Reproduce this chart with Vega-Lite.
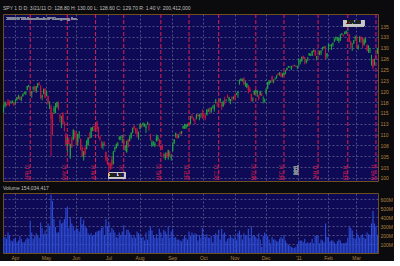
{
"$schema": "https://vega.github.io/schema/vega-lite/v6.json",
"background": "#0b0b0d",
"padding": {"left": 2, "top": 5, "right": 0, "bottom": 0},
"spacing": 2,
"config": {
  "view": {"fill": "#0e0a55", "stroke": "#6e5020", "strokeWidth": 1},
  "font": "Liberation Sans",
  "axis": {"labelFontSize": 5, "labelColor": "#b08040", "gridColor": "#6a6a9c", "gridDash": [2, 2], "gridWidth": 0.7, "domain": false, "ticks": false, "title": null, "labelPadding": 2, "labelOverlap": false},
  "title": {"fontSize": 5, "color": "#c0c0c0", "anchor": "start", "offset": 2, "fontWeight": "normal"}
},
"datasets": {"spy": [
{"d":"2010-03-22","o":115.2,"h":116.9,"l":115.0,"c":116.6,"v":170},
{"d":"2010-03-23","o":116.7,"h":117.6,"l":116.2,"c":117.4,"v":180},
{"d":"2010-03-24","o":117.0,"h":117.2,"l":116.5,"c":116.9,"v":160},
{"d":"2010-03-25","o":117.6,"h":118.2,"l":116.8,"c":116.9,"v":230},
{"d":"2010-03-26","o":117.3,"h":117.9,"l":116.5,"c":117.0,"v":200},
{"d":"2010-03-29","o":117.3,"h":117.8,"l":117.1,"c":117.5,"v":140},
{"d":"2010-03-30","o":117.6,"h":117.9,"l":117.2,"c":117.6,"v":130},
{"d":"2010-03-31","o":117.4,"h":117.5,"l":116.6,"c":116.8,"v":160},
{"d":"2010-04-01","o":117.7,"h":118.1,"l":116.9,"c":117.8,"v":160},
{"d":"2010-04-05","o":117.9,"h":118.6,"l":117.9,"c":118.6,"v":120},
{"d":"2010-04-06","o":118.3,"h":119.2,"l":118.2,"c":118.8,"v":140},
{"d":"2010-04-07","o":118.6,"h":119.0,"l":117.9,"c":118.1,"v":190},
{"d":"2010-04-08","o":118.0,"h":118.8,"l":117.7,"c":118.6,"v":160},
{"d":"2010-04-09","o":118.9,"h":119.4,"l":118.7,"c":119.4,"v":120},
{"d":"2010-04-12","o":119.4,"h":119.9,"l":119.3,"c":119.7,"v":120},
{"d":"2010-04-13","o":119.6,"h":119.9,"l":119.1,"c":119.8,"v":150},
{"d":"2010-04-14","o":120.3,"h":121.2,"l":120.2,"c":121.2,"v":170},
{"d":"2010-04-15","o":121.1,"h":121.5,"l":120.9,"c":121.3,"v":160},
{"d":"2010-04-16","o":120.9,"h":121.2,"l":118.8,"c":119.4,"v":360,"e":"APR 10"},
{"d":"2010-04-19","o":119.4,"h":120.0,"l":118.5,"c":120.0,"v":230},
{"d":"2010-04-20","o":120.6,"h":121.1,"l":120.2,"c":120.9,"v":160},
{"d":"2010-04-21","o":121.0,"h":121.3,"l":119.9,"c":120.6,"v":190},
{"d":"2010-04-22","o":120.0,"h":121.2,"l":119.6,"c":121.1,"v":220},
{"d":"2010-04-23","o":121.1,"h":121.9,"l":120.8,"c":121.8,"v":190},
{"d":"2010-04-26","o":121.8,"h":122.1,"l":121.4,"c":121.5,"v":170},
{"d":"2010-04-27","o":121.2,"h":121.4,"l":118.3,"c":118.3,"v":340},
{"d":"2010-04-28","o":118.6,"h":119.2,"l":117.9,"c":119.0,"v":280},
{"d":"2010-04-29","o":119.4,"h":120.6,"l":119.3,"c":120.5,"v":210},
{"d":"2010-04-30","o":120.6,"h":120.7,"l":118.4,"c":118.5,"v":250},
{"d":"2010-05-03","o":118.9,"h":120.2,"l":118.9,"c":120.0,"v":200},
{"d":"2010-05-04","o":118.9,"h":119.0,"l":116.9,"c":117.2,"v":330},
{"d":"2010-05-05","o":116.3,"h":117.7,"l":115.9,"c":116.6,"v":300},
{"d":"2010-05-06","o":116.3,"h":116.9,"l":105.0,"c":113.6,"v":650},
{"d":"2010-05-07","o":113.5,"h":115.1,"l":109.9,"c":111.3,"v":580},
{"d":"2010-05-10","o":115.3,"h":116.6,"l":114.8,"c":116.1,"v":380},
{"d":"2010-05-11","o":115.0,"h":117.3,"l":114.9,"c":115.8,"v":290},
{"d":"2010-05-12","o":116.3,"h":117.6,"l":116.2,"c":117.3,"v":230},
{"d":"2010-05-13","o":117.3,"h":117.6,"l":115.6,"c":116.0,"v":230},
{"d":"2010-05-14","o":114.6,"h":114.8,"l":112.8,"c":113.8,"v":370},
{"d":"2010-05-17","o":114.0,"h":114.3,"l":111.5,"c":114.0,"v":330},
{"d":"2010-05-18","o":114.9,"h":115.2,"l":112.3,"c":112.5,"v":340},
{"d":"2010-05-19","o":112.1,"h":113.0,"l":110.7,"c":112.0,"v":380},
{"d":"2010-05-20","o":110.0,"h":110.4,"l":107.4,"c":107.6,"v":500},
{"d":"2010-05-21","o":106.4,"h":109.7,"l":106.0,"c":109.1,"v":520,"e":"MAY 10"},
{"d":"2010-05-24","o":108.9,"h":109.4,"l":107.7,"c":107.8,"v":280},
{"d":"2010-05-25","o":105.1,"h":107.9,"l":104.4,"c":107.8,"v":400},
{"d":"2010-05-26","o":108.9,"h":109.5,"l":106.9,"c":107.0,"v":330},
{"d":"2010-05-27","o":108.8,"h":111.2,"l":108.7,"c":111.1,"v":300},
{"d":"2010-05-28","o":110.7,"h":111.0,"l":109.0,"c":109.4,"v":250},
{"d":"2010-06-01","o":108.9,"h":110.6,"l":107.5,"c":107.6,"v":280},
{"d":"2010-06-02","o":108.3,"h":110.2,"l":107.5,"c":110.1,"v":270},
{"d":"2010-06-03","o":110.3,"h":110.8,"l":109.1,"c":110.5,"v":240},
{"d":"2010-06-04","o":109.0,"h":109.1,"l":106.4,"c":106.6,"v":400},
{"d":"2010-06-07","o":106.9,"h":107.3,"l":104.9,"c":105.0,"v":320},
{"d":"2010-06-08","o":104.9,"h":106.2,"l":104.0,"c":106.1,"v":370},
{"d":"2010-06-09","o":106.9,"h":107.3,"l":105.3,"c":105.5,"v":300},
{"d":"2010-06-10","o":106.7,"h":108.7,"l":106.6,"c":108.6,"v":280},
{"d":"2010-06-11","o":107.6,"h":109.3,"l":107.5,"c":109.3,"v":220},
{"d":"2010-06-14","o":109.7,"h":110.5,"l":109.0,"c":109.1,"v":200},
{"d":"2010-06-15","o":109.3,"h":111.7,"l":109.2,"c":111.6,"v":220},
{"d":"2010-06-16","o":111.1,"h":111.8,"l":110.8,"c":111.6,"v":190},
{"d":"2010-06-17","o":111.9,"h":112.0,"l":110.7,"c":111.7,"v":200},
{"d":"2010-06-18","o":111.8,"h":112.2,"l":111.2,"c":111.7,"v":230,"e":"JUN 10"},
{"d":"2010-06-21","o":112.9,"h":113.2,"l":110.6,"c":111.3,"v":240},
{"d":"2010-06-22","o":111.4,"h":111.8,"l":109.2,"c":109.3,"v":250},
{"d":"2010-06-23","o":109.3,"h":109.7,"l":108.5,"c":109.0,"v":250},
{"d":"2010-06-24","o":108.3,"h":108.5,"l":106.9,"c":107.2,"v":280},
{"d":"2010-06-25","o":107.4,"h":108.4,"l":106.6,"c":107.9,"v":300},
{"d":"2010-06-28","o":107.9,"h":108.4,"l":107.3,"c":107.6,"v":200},
{"d":"2010-06-29","o":106.0,"h":106.1,"l":103.8,"c":104.2,"v":380},
{"d":"2010-06-30","o":104.1,"h":104.9,"l":103.0,"c":103.2,"v":300},
{"d":"2010-07-01","o":103.5,"h":103.6,"l":101.1,"c":102.8,"v":340},
{"d":"2010-07-02","o":103.3,"h":103.5,"l":101.9,"c":102.3,"v":230},
{"d":"2010-07-06","o":104.1,"h":105.1,"l":102.1,"c":103.0,"v":280},
{"d":"2010-07-07","o":103.3,"h":106.2,"l":103.1,"c":106.1,"v":260},
{"d":"2010-07-08","o":106.7,"h":107.2,"l":106.0,"c":107.0,"v":230},
{"d":"2010-07-09","o":106.9,"h":107.9,"l":106.8,"c":107.9,"v":180},
{"d":"2010-07-12","o":107.8,"h":108.3,"l":107.3,"c":107.9,"v":170},
{"d":"2010-07-13","o":108.9,"h":109.6,"l":108.7,"c":109.5,"v":230},
{"d":"2010-07-14","o":109.3,"h":109.7,"l":108.7,"c":109.5,"v":200},
{"d":"2010-07-15","o":109.6,"h":109.9,"l":108.0,"c":109.6,"v":240},
{"d":"2010-07-16","o":109.0,"h":109.1,"l":106.4,"c":106.7,"v":310,"e":"JUL 10"},
{"d":"2010-07-19","o":107.0,"h":107.5,"l":106.2,"c":107.3,"v":200},
{"d":"2010-07-20","o":106.0,"h":108.6,"l":105.8,"c":108.5,"v":260},
{"d":"2010-07-21","o":108.9,"h":109.0,"l":107.0,"c":107.2,"v":260},
{"d":"2010-07-22","o":108.5,"h":109.8,"l":108.4,"c":109.5,"v":230},
{"d":"2010-07-23","o":109.4,"h":110.5,"l":109.0,"c":110.4,"v":200},
{"d":"2010-07-26","o":110.5,"h":111.6,"l":110.3,"c":111.6,"v":170},
{"d":"2010-07-27","o":112.0,"h":112.3,"l":111.2,"c":111.4,"v":200},
{"d":"2010-07-28","o":111.3,"h":111.5,"l":110.2,"c":110.5,"v":170},
{"d":"2010-07-29","o":111.2,"h":111.6,"l":109.3,"c":110.1,"v":240},
{"d":"2010-07-30","o":109.3,"h":110.7,"l":108.8,"c":110.2,"v":220},
{"d":"2010-08-02","o":111.3,"h":112.6,"l":111.2,"c":112.4,"v":200},
{"d":"2010-08-03","o":112.2,"h":112.4,"l":111.6,"c":111.9,"v":170},
{"d":"2010-08-04","o":112.2,"h":112.8,"l":111.8,"c":112.6,"v":180},
{"d":"2010-08-05","o":112.0,"h":112.6,"l":111.8,"c":112.4,"v":140},
{"d":"2010-08-06","o":111.6,"h":112.3,"l":110.4,"c":112.0,"v":230},
{"d":"2010-08-09","o":112.5,"h":113.0,"l":112.2,"c":112.6,"v":150},
{"d":"2010-08-10","o":112.0,"h":112.7,"l":110.9,"c":111.9,"v":250},
{"d":"2010-08-11","o":110.1,"h":110.2,"l":108.6,"c":108.8,"v":300},
{"d":"2010-08-12","o":107.3,"h":108.7,"l":107.2,"c":108.2,"v":250},
{"d":"2010-08-13","o":107.8,"h":108.5,"l":107.6,"c":107.9,"v":190},
{"d":"2010-08-16","o":107.4,"h":108.3,"l":107.1,"c":107.9,"v":170},
{"d":"2010-08-17","o":108.6,"h":110.0,"l":108.4,"c":109.1,"v":210},
{"d":"2010-08-18","o":109.0,"h":109.8,"l":108.5,"c":109.3,"v":170},
{"d":"2010-08-19","o":108.9,"h":109.0,"l":107.1,"c":107.5,"v":270},
{"d":"2010-08-20","o":107.3,"h":107.6,"l":106.3,"c":107.2,"v":230,"e":"AUG 10"},
{"d":"2010-08-23","o":107.5,"h":107.8,"l":106.5,"c":106.6,"v":170},
{"d":"2010-08-24","o":105.5,"h":105.7,"l":104.6,"c":105.0,"v":260},
{"d":"2010-08-25","o":104.5,"h":105.9,"l":104.1,"c":105.4,"v":240},
{"d":"2010-08-26","o":105.7,"h":105.9,"l":104.6,"c":104.7,"v":210},
{"d":"2010-08-27","o":105.0,"h":106.5,"l":104.2,"c":106.4,"v":300},
{"d":"2010-08-30","o":106.0,"h":106.3,"l":104.8,"c":104.9,"v":170},
{"d":"2010-08-31","o":104.6,"h":105.5,"l":104.0,"c":104.9,"v":240},
{"d":"2010-09-01","o":106.2,"h":108.2,"l":106.1,"c":108.0,"v":270},
{"d":"2010-09-02","o":108.0,"h":108.9,"l":107.8,"c":108.9,"v":170},
{"d":"2010-09-03","o":109.6,"h":110.4,"l":109.3,"c":110.4,"v":180},
{"d":"2010-09-07","o":109.8,"h":110.2,"l":109.1,"c":109.1,"v":150},
{"d":"2010-09-08","o":109.4,"h":110.1,"l":109.2,"c":109.7,"v":150},
{"d":"2010-09-09","o":110.6,"h":110.7,"l":109.8,"c":110.3,"v":140},
{"d":"2010-09-10","o":110.4,"h":110.8,"l":110.1,"c":110.8,"v":130},
{"d":"2010-09-13","o":111.5,"h":112.1,"l":111.3,"c":112.0,"v":160},
{"d":"2010-09-14","o":111.8,"h":112.5,"l":111.3,"c":111.9,"v":190},
{"d":"2010-09-15","o":111.6,"h":112.4,"l":111.3,"c":112.3,"v":170},
{"d":"2010-09-16","o":112.1,"h":112.5,"l":111.8,"c":112.4,"v":150},
{"d":"2010-09-17","o":112.7,"h":112.8,"l":111.8,"c":112.2,"v":240,"e":"SEP 10"},
{"d":"2010-09-20","o":112.4,"h":114.3,"l":112.3,"c":114.2,"v":190},
{"d":"2010-09-21","o":114.2,"h":114.8,"l":113.7,"c":113.9,"v":230},
{"d":"2010-09-22","o":113.8,"h":114.0,"l":113.1,"c":113.4,"v":200},
{"d":"2010-09-23","o":112.7,"h":113.7,"l":112.4,"c":112.5,"v":220},
{"d":"2010-09-24","o":113.6,"h":114.7,"l":113.5,"c":114.6,"v":210},
{"d":"2010-09-27","o":114.6,"h":114.8,"l":114.0,"c":114.2,"v":140},
{"d":"2010-09-28","o":114.3,"h":114.8,"l":113.3,"c":114.6,"v":200},
{"d":"2010-09-29","o":114.3,"h":114.9,"l":113.9,"c":114.3,"v":170},
{"d":"2010-09-30","o":115.0,"h":115.8,"l":113.6,"c":114.1,"v":280},
{"d":"2010-10-01","o":114.9,"h":115.0,"l":113.8,"c":114.6,"v":200},
{"d":"2010-10-04","o":114.4,"h":114.6,"l":113.3,"c":113.7,"v":180},
{"d":"2010-10-05","o":114.5,"h":115.8,"l":114.4,"c":115.8,"v":210},
{"d":"2010-10-06","o":115.7,"h":116.0,"l":115.2,"c":115.8,"v":170},
{"d":"2010-10-07","o":116.2,"h":116.2,"l":115.0,"c":115.6,"v":170},
{"d":"2010-10-08","o":115.3,"h":116.3,"l":115.0,"c":116.2,"v":190},
{"d":"2010-10-11","o":116.3,"h":116.7,"l":116.0,"c":116.3,"v":120},
{"d":"2010-10-12","o":115.9,"h":117.0,"l":115.3,"c":116.8,"v":200},
{"d":"2010-10-13","o":117.4,"h":118.2,"l":117.2,"c":117.6,"v":220},
{"d":"2010-10-14","o":117.5,"h":117.5,"l":116.4,"c":117.2,"v":190},
{"d":"2010-10-15","o":118.1,"h":118.2,"l":116.7,"c":117.6,"v":260,"e":"OCT 10"},
{"d":"2010-10-18","o":117.8,"h":118.3,"l":117.3,"c":118.3,"v":150},
{"d":"2010-10-19","o":117.1,"h":117.5,"l":115.7,"c":116.4,"v":270},
{"d":"2010-10-20","o":116.5,"h":117.8,"l":116.4,"c":117.6,"v":210},
{"d":"2010-10-21","o":118.1,"h":118.7,"l":116.9,"c":117.8,"v":230},
{"d":"2010-10-22","o":117.9,"h":118.1,"l":117.6,"c":118.1,"v":130},
{"d":"2010-10-25","o":118.9,"h":119.3,"l":118.4,"c":118.5,"v":160},
{"d":"2010-10-26","o":117.8,"h":118.7,"l":117.6,"c":118.5,"v":170},
{"d":"2010-10-27","o":117.8,"h":118.2,"l":117.0,"c":118.2,"v":200},
{"d":"2010-10-28","o":118.6,"h":118.8,"l":117.7,"c":118.3,"v":170},
{"d":"2010-10-29","o":118.2,"h":118.8,"l":118.1,"c":118.5,"v":160},
{"d":"2010-11-01","o":119.1,"h":119.5,"l":117.9,"c":118.5,"v":190},
{"d":"2010-11-02","o":119.2,"h":119.6,"l":119.1,"c":119.4,"v":150},
{"d":"2010-11-03","o":119.6,"h":120.0,"l":118.5,"c":119.9,"v":220},
{"d":"2010-11-04","o":121.6,"h":122.7,"l":121.5,"c":122.4,"v":250},
{"d":"2010-11-05","o":122.4,"h":123.0,"l":122.3,"c":122.9,"v":200},
{"d":"2010-11-08","o":122.5,"h":122.9,"l":122.2,"c":122.6,"v":150},
{"d":"2010-11-09","o":123.0,"h":123.2,"l":121.4,"c":121.6,"v":220},
{"d":"2010-11-10","o":121.7,"h":122.3,"l":121.0,"c":122.2,"v":200},
{"d":"2010-11-11","o":120.9,"h":121.9,"l":120.7,"c":121.7,"v":200},
{"d":"2010-11-12","o":121.3,"h":121.4,"l":119.5,"c":120.2,"v":270},
{"d":"2010-11-15","o":120.5,"h":121.0,"l":119.8,"c":119.9,"v":170},
{"d":"2010-11-16","o":119.3,"h":119.5,"l":117.6,"c":117.9,"v":300},
{"d":"2010-11-17","o":118.0,"h":118.6,"l":117.6,"c":118.1,"v":190},
{"d":"2010-11-18","o":119.2,"h":120.2,"l":119.1,"c":119.9,"v":200},
{"d":"2010-11-19","o":119.7,"h":120.3,"l":119.4,"c":120.2,"v":180,"e":"NOV 10"},
{"d":"2010-11-22","o":119.7,"h":120.2,"l":118.7,"c":120.1,"v":160},
{"d":"2010-11-23","o":119.0,"h":119.1,"l":117.9,"c":118.3,"v":220},
{"d":"2010-11-24","o":119.1,"h":120.1,"l":119.0,"c":120.0,"v":150},
{"d":"2010-11-26","o":119.5,"h":119.6,"l":118.9,"c":118.9,"v":70},
{"d":"2010-11-29","o":118.7,"h":118.8,"l":117.2,"c":118.7,"v":190},
{"d":"2010-11-30","o":117.8,"h":118.3,"l":117.4,"c":118.0,"v":230},
{"d":"2010-12-01","o":119.3,"h":120.7,"l":119.3,"c":120.5,"v":210},
{"d":"2010-12-02","o":120.7,"h":122.1,"l":120.5,"c":122.1,"v":190},
{"d":"2010-12-03","o":121.6,"h":122.5,"l":121.5,"c":122.3,"v":150},
{"d":"2010-12-06","o":122.1,"h":122.5,"l":121.9,"c":122.1,"v":110},
{"d":"2010-12-07","o":123.4,"h":123.6,"l":122.0,"c":122.1,"v":180},
{"d":"2010-12-08","o":122.3,"h":122.7,"l":121.8,"c":122.6,"v":150},
{"d":"2010-12-09","o":123.0,"h":123.2,"l":122.6,"c":123.0,"v":150},
{"d":"2010-12-10","o":123.1,"h":123.7,"l":122.9,"c":123.7,"v":130},
{"d":"2010-12-13","o":124.0,"h":124.2,"l":123.6,"c":123.8,"v":130},
{"d":"2010-12-14","o":123.9,"h":124.4,"l":123.6,"c":124.0,"v":160},
{"d":"2010-12-15","o":123.9,"h":124.4,"l":123.2,"c":123.4,"v":180},
{"d":"2010-12-16","o":123.5,"h":124.2,"l":123.2,"c":124.1,"v":160},
{"d":"2010-12-17","o":123.8,"h":124.3,"l":123.6,"c":124.3,"v":200,"e":"DEC 10"},
{"d":"2010-12-20","o":124.6,"h":124.9,"l":123.9,"c":124.6,"v":140},
{"d":"2010-12-21","o":124.9,"h":125.4,"l":124.8,"c":125.4,"v":110},
{"d":"2010-12-22","o":125.5,"h":125.8,"l":125.4,"c":125.8,"v":90},
{"d":"2010-12-23","o":125.6,"h":125.8,"l":125.4,"c":125.6,"v":80},
{"d":"2010-12-27","o":125.1,"h":125.8,"l":124.9,"c":125.7,"v":70},
{"d":"2010-12-28","o":125.9,"h":125.9,"l":125.5,"c":125.8,"v":60},
{"d":"2010-12-29","o":126.0,"h":126.1,"l":125.8,"c":126.0,"v":60},
{"d":"2010-12-30","o":125.8,"h":126.0,"l":125.6,"c":125.7,"v":70},
{"d":"2010-12-31","o":125.5,"h":125.9,"l":125.1,"c":125.8,"v":90},
{"d":"2011-01-03","o":126.7,"h":127.6,"l":125.7,"c":127.1,"v":140},
{"d":"2011-01-04","o":127.3,"h":127.4,"l":126.2,"c":127.3,"v":140},
{"d":"2011-01-05","o":126.9,"h":128.0,"l":126.8,"c":127.9,"v":140},
{"d":"2011-01-06","o":128.0,"h":128.2,"l":127.4,"c":127.6,"v":120},
{"d":"2011-01-07","o":127.8,"h":127.9,"l":126.2,"c":127.4,"v":160},
{"d":"2011-01-10","o":126.6,"h":127.4,"l":126.4,"c":127.1,"v":110},
{"d":"2011-01-11","o":127.6,"h":127.9,"l":126.9,"c":127.6,"v":120},
{"d":"2011-01-12","o":128.3,"h":128.8,"l":128.1,"c":128.8,"v":110},
{"d":"2011-01-13","o":128.6,"h":128.7,"l":128.1,"c":128.6,"v":120},
{"d":"2011-01-14","o":128.2,"h":129.3,"l":128.1,"c":129.3,"v":160},
{"d":"2011-01-18","o":129.2,"h":129.6,"l":129.0,"c":129.5,"v":110},
{"d":"2011-01-19","o":129.5,"h":129.6,"l":128.1,"c":128.3,"v":190},
{"d":"2011-01-20","o":127.8,"h":128.1,"l":127.1,"c":128.1,"v":200},
{"d":"2011-01-21","o":128.5,"h":128.9,"l":128.2,"c":128.4,"v":190,"e":"JAN 11"},
{"d":"2011-01-24","o":128.4,"h":129.3,"l":128.3,"c":129.3,"v":110},
{"d":"2011-01-25","o":128.9,"h":129.4,"l":128.3,"c":129.4,"v":150},
{"d":"2011-01-26","o":129.5,"h":130.2,"l":129.4,"c":129.9,"v":140},
{"d":"2011-01-27","o":130.0,"h":130.4,"l":129.8,"c":130.2,"v":120},
{"d":"2011-01-28","o":130.1,"h":130.4,"l":127.4,"c":127.7,"v":330},
{"d":"2011-01-31","o":128.0,"h":128.8,"l":127.5,"c":128.7,"v":180},
{"d":"2011-02-01","o":129.5,"h":130.9,"l":129.3,"c":130.7,"v":180},
{"d":"2011-02-02","o":130.4,"h":130.8,"l":130.3,"c":130.5,"v":130},
{"d":"2011-02-03","o":130.3,"h":130.9,"l":129.5,"c":130.8,"v":140},
{"d":"2011-02-04","o":130.8,"h":131.2,"l":130.3,"c":131.2,"v":140},
{"d":"2011-02-07","o":131.4,"h":132.2,"l":131.4,"c":131.9,"v":120},
{"d":"2011-02-08","o":132.1,"h":132.6,"l":131.7,"c":132.5,"v":100},
{"d":"2011-02-09","o":132.1,"h":132.5,"l":131.6,"c":132.2,"v":130},
{"d":"2011-02-10","o":131.6,"h":132.4,"l":131.1,"c":132.3,"v":150},
{"d":"2011-02-11","o":131.7,"h":133.1,"l":131.6,"c":133.1,"v":140},
{"d":"2011-02-14","o":133.1,"h":133.4,"l":132.9,"c":133.3,"v":110},
{"d":"2011-02-15","o":133.0,"h":133.1,"l":132.6,"c":132.9,"v":110},
{"d":"2011-02-16","o":133.2,"h":133.8,"l":133.1,"c":133.6,"v":110},
{"d":"2011-02-17","o":133.3,"h":134.0,"l":133.2,"c":133.9,"v":120},
{"d":"2011-02-18","o":134.1,"h":134.7,"l":133.9,"c":134.4,"v":170,"e":"FEB 11"},
{"d":"2011-02-22","o":133.0,"h":133.2,"l":131.3,"c":131.4,"v":300},
{"d":"2011-02-23","o":131.3,"h":131.6,"l":129.7,"c":130.6,"v":280},
{"d":"2011-02-24","o":130.4,"h":131.1,"l":129.3,"c":130.4,"v":250},
{"d":"2011-02-25","o":131.1,"h":131.8,"l":130.9,"c":131.7,"v":170},
{"d":"2011-02-28","o":132.1,"h":132.8,"l":131.6,"c":132.5,"v":160},
{"d":"2011-03-01","o":132.6,"h":132.7,"l":129.9,"c":130.0,"v":230},
{"d":"2011-03-02","o":129.8,"h":130.8,"l":129.6,"c":130.4,"v":200},
{"d":"2011-03-03","o":131.3,"h":132.6,"l":131.3,"c":132.6,"v":170},
{"d":"2011-03-04","o":132.5,"h":132.6,"l":131.2,"c":131.9,"v":190},
{"d":"2011-03-07","o":132.3,"h":132.5,"l":130.0,"c":130.8,"v":210},
{"d":"2011-03-08","o":130.7,"h":132.2,"l":130.5,"c":131.9,"v":170},
{"d":"2011-03-09","o":131.7,"h":132.3,"l":131.1,"c":131.8,"v":160},
{"d":"2011-03-10","o":130.6,"h":130.8,"l":129.2,"c":129.4,"v":230},
{"d":"2011-03-11","o":129.0,"h":130.6,"l":128.8,"c":130.3,"v":210},
{"d":"2011-03-14","o":129.4,"h":130.0,"l":128.8,"c":129.5,"v":200},
{"d":"2011-03-15","o":126.2,"h":128.4,"l":125.9,"c":127.9,"v":330},
{"d":"2011-03-16","o":127.4,"h":127.4,"l":125.0,"c":125.5,"v":470},
{"d":"2011-03-17","o":126.8,"h":127.5,"l":125.9,"c":127.0,"v":330},
{"d":"2011-03-18","o":128.3,"h":128.5,"l":127.3,"c":127.8,"v":300,"e":"MAR 11"},
{"d":"2011-03-21","o":128.8,"h":130.0,"l":128.6,"c":129.7,"v":200}
]},
"vconcat": [
{
  "width": 375, "height": 167,
  "title": {"text": "SPY 1 D   D: 3/21/11   O: 128.80   H: 130.00   L: 128.60   C: 129.70   R: 1.40   V: 200,412,000"},
  "data": {"name": "spy"},
  "encoding": {
    "x": {"field": "d", "type": "ordinal", "scale": {"paddingInner": 0.25, "paddingOuter": 0},
      "axis": {"labels": false, "grid": true, "values": ["2010-04-01","2010-05-03","2010-06-01","2010-07-01","2010-08-02","2010-09-01","2010-10-01","2010-11-01","2010-12-01","2011-01-03","2011-02-01","2011-03-01"]}}
  },
  "layer": [
    {"mark": {"type": "rule", "strokeWidth": 1},
     "encoding": {
       "y": {"field": "l", "type": "quantitative", "scale": {"domain": [99.3, 137.8], "nice": false, "zero": false},
         "axis": {"orient": "right", "grid": true, "tickCount": 15, "values": [100,102.5,105,107.5,110,112.5,115,117.5,120,122.5,125,127.5,130,132.5,135]}},
       "y2": {"field": "h"},
       "color": {"condition": {"test": "datum.c >= datum.o", "value": "#22a040"}, "value": "#c4163f"}
     }},
    {"mark": {"type": "bar", "width": {"band": 1}},
     "encoding": {
       "y": {"field": "o", "type": "quantitative",
         "axis": {"orient": "right", "grid": true, "tickCount": 15, "values": [100,102.5,105,107.5,110,112.5,115,117.5,120,122.5,125,127.5,130,132.5,135]}},
       "y2": {"field": "c"},
       "color": {"condition": {"test": "datum.c >= datum.o", "value": "#22a040"}, "value": "#c4163f"}
     }},
    {"transform": [{"filter": "isValid(datum.e)"}],
     "mark": {"type": "rule", "color": "#d01c4e", "strokeDash": [4, 2], "strokeWidth": 1.1},
     "encoding": {}},
    {"transform": [{"filter": "isValid(datum.e)"}],
     "mark": {"type": "text", "angle": 270, "baseline": "bottom", "align": "center", "fontSize": 4.5, "color": "#d8204f"},
     "encoding": {"y": {"datum": 101.3}, "text": {"field": "e"}}},
    {"mark": {"type": "text", "angle": 270, "baseline": "bottom", "align": "center", "fontSize": 4.5, "color": "#8a8a9a"},
     "encoding": {"x": {"datum": "2011-01-03", "type": "ordinal"}, "y": {"datum": 101.8}, "text": {"value": "2011"}}},
    {"mark": {"type": "text", "align": "left", "baseline": "middle", "fontSize": 4, "color": "#8a8a9e"},
     "encoding": {"x": {"datum": "2010-03-24", "type": "ordinal"}, "y": {"datum": 136.6}, "text": {"value": "2010 © TD Ameritrade IP Company, Inc."}}},
    {"mark": {"type": "rect", "color": "#c8c8c8"},
     "encoding": {"x": {"datum": "2011-02-15", "type": "ordinal"}, "x2": {"datum": "2011-03-08"}, "y": {"datum": 136.4}, "y2": {"datum": 135.0}}},
    {"mark": {"type": "text", "fontSize": 4.5, "color": "#202020"},
     "encoding": {"x": {"datum": "2011-02-25", "type": "ordinal"}, "y": {"datum": 135.7}, "text": {"value": "134.69"}}},
    {"mark": {"type": "rect", "color": "#c8c8c8"},
     "encoding": {"x": {"datum": "2010-07-01", "type": "ordinal"}, "x2": {"datum": "2010-07-19"}, "y": {"datum": 101.2}, "y2": {"datum": 99.8}}},
    {"mark": {"type": "text", "fontSize": 4.5, "color": "#202020"},
     "encoding": {"x": {"datum": "2010-07-09", "type": "ordinal"}, "y": {"datum": 100.5}, "text": {"value": "101.13"}}}
  ]
},
{
  "width": 375, "height": 60,
  "title": {"text": "Volume   154,034,417"},
  "data": {"name": "spy"},
  "mark": {"type": "bar", "color": "#2c4cd4", "width": {"band": 1}},
  "encoding": {
    "x": {"field": "d", "type": "ordinal", "scale": {"paddingInner": 0.25, "paddingOuter": 0},
      "axis": {"grid": true, "labelAngle": 0, "values": ["2010-04-01","2010-05-03","2010-06-01","2010-07-01","2010-08-02","2010-09-01","2010-10-01","2010-11-01","2010-12-01","2011-01-03","2011-02-01","2011-03-01"],
        "labelExpr": "slice(datum.value,5,7) == '01' ? \"'11\" : ['','Jan','Feb','Mar','Apr','May','Jun','Jul','Aug','Sep','Oct','Nov','Dec'][toNumber(slice(datum.value,5,7))]"}},
    "y": {"field": "v", "type": "quantitative", "scale": {"domain": [0, 670], "nice": false},
      "axis": {"orient": "right", "grid": true, "values": [100,200,300,400,500,600], "labelExpr": "datum.value + 'M'"}}
  }
}
]
}
